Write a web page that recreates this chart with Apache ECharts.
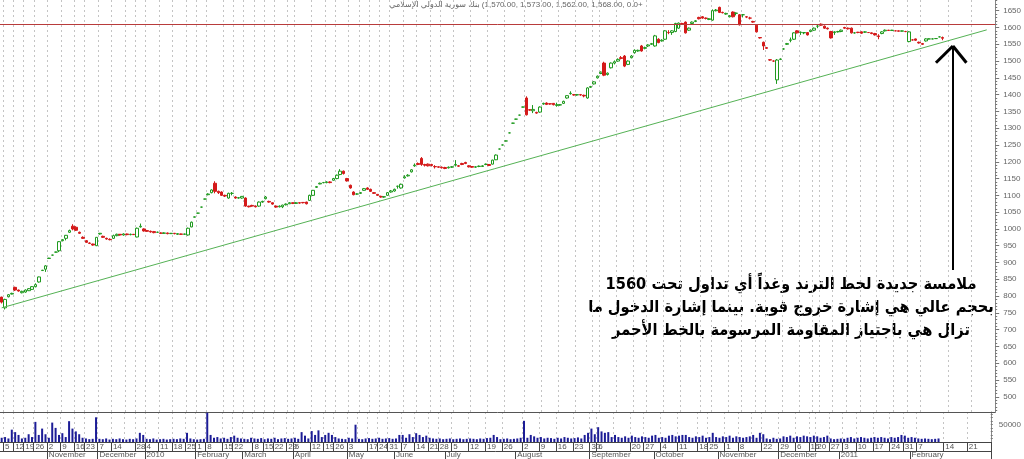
<!DOCTYPE html>
<html><head><meta charset="utf-8">
<script src="https://cdn.jsdelivr.net/npm/echarts@6/dist/echarts.min.js"></script>
<style>html,body{margin:0;padding:0;background:#fff}#c{width:1024px;height:459px}</style>
</head><body><div id="c"></div>
<script>
// weeks: [day-of-month label of the week tick, sessions in week, month label, month label offset in sessions]
const weeks = [
 ['',1],
 ['5',3],['12',3],['19',3],['26',4],
 ['2',4,'November'],['9',4],['16',3],['23',4],
 ['7',4,'December'],['14',4],['',3],['28',3],
 ['4',4,'2010'],['11',4],['18',4],['25',3],
 ['1',3,'February'],['8',5],['15',3],['22',3],
 ['',3,'March'],['8',3],['15',3],['22',4],['29',2],
 ['5',5,'April'],['12',4],['19',3],['26',4],
 ['3',3,'May'],['',3],['17',3],['24',3],['31',4,'June',2],
 ['7',4],['14',4],['21',3],['28',4,'July',2],
 ['5',5],['12',5],['19',5],['26',6,'August',4],
 ['2',5],['9',5],['16',5],['23',5],['30',2,'September',0],
 ['6',5],['',5],['20',4],['27',5,'October',3],
 ['4',5],['11',6],['18',3],['25',5,'November',3],
 ['1',4],['8',4],['',3],['22',5],['29',5,'December',0],
 ['6',4],['16',2],['20',4],['27',4,'2011',3],
 ['3',4],['10',5],['17',5],['24',4],['31',4,'February',2],
 ['7',8],['14',7],['21',7]
];
// candles: [open, close, low, high]
const ohlc = [
[797,782,778,798],[765,790,760,792],[798,804,796,806],[806,808,805,810],[826,818,815,828],
[818,815,813,819],[810,814,808,816],[812,818,810,820],[816,822,815,824],[820,828,818,830],
[828,834,826,838],[842,857,840,858],[876,877,875,878],[880,890,872,892],[912,913,911,914],
[922,922,921,923],[931,931,930,932],[935,962,931,964],[965,968,963,970],[972,981,966,982],
[990,995,988,998],[1008,1000,996,1014],[1005,996,994,1008],[990,987,985,992],[975,972,970,978],
[965,960,958,967],[958,957,955,960],[955,952,950,956],[950,975,949,976],[985,987,983,988],
[978,975,973,980],[972,970,968,974],[969,968,966,972],[972,980,970,983],[980,984,978,986],
[984,982,980,985],[982,985,980,987],[985,983,981,986],[983,984,981,986],[984,983,982,985],
[976,1002,975,1004],[1006,1008,1004,1016],[1000,994,992,1002],[995,993,991,997],[993,991,989,995],
[992,989,987,994],[990,990,988,992],[988,987,985,990],[987,988,985,990],[988,986,984,989],
[986,987,985,988],[987,986,984,988],[984,986,982,987],[985,984,982,986],[984,985,982,986],
[982,1002,980,1004],[1006,1020,1005,1022],[1035,1036,1034,1037],[1047,1047,1046,1048],[1065,1065,1064,1066],
[1089,1089,1088,1090],[1102,1104,1100,1106],[1108,1116,1106,1118],[1136,1112,1106,1142],[1112,1108,1104,1114],
[1110,1100,1098,1112],[1100,1098,1095,1102],[1092,1106,1090,1108],[1106,1106,1100,1110],[1095,1092,1090,1097],
[1092,1093,1090,1095],[1092,1097,1090,1098],[1092,1068,1066,1094],[1068,1066,1064,1069],[1070,1068,1066,1072],
[1068,1066,1064,1070],[1068,1080,1066,1082],[1080,1082,1078,1084],[1090,1095,1088,1098],[1082,1080,1078,1084],
[1078,1074,1072,1079],[1068,1065,1063,1070],[1066,1068,1064,1070],[1066,1071,1062,1072],[1072,1074,1070,1076],
[1075,1078,1074,1080],[1078,1076,1074,1079],[1076,1078,1075,1080],[1078,1077,1075,1079],[1079,1078,1076,1080],
[1080,1075,1073,1081],[1085,1100,1084,1102],[1100,1115,1098,1116],[1124,1126,1122,1128],[1134,1136,1133,1138],
[1138,1138,1136,1140],[1138,1140,1136,1142],[1140,1138,1136,1142],[1145,1150,1144,1152],[1150,1160,1148,1162],
[1162,1172,1160,1178],[1172,1165,1162,1174],[1150,1143,1141,1152],[1130,1122,1120,1132],[1110,1102,1100,1112],
[1104,1104,1102,1106],[1106,1108,1104,1110],[1115,1120,1114,1122],[1122,1118,1116,1124],[1118,1112,1110,1120],
[1108,1106,1104,1110],[1103,1100,1098,1104],[1097,1095,1093,1099],[1095,1096,1093,1098],[1100,1108,1099,1110],
[1110,1113,1108,1116],[1113,1118,1111,1120],[1127,1127,1120,1129],[1122,1133,1120,1135],[1152,1155,1150,1160],
[1158,1160,1156,1163],[1170,1176,1168,1178],[1188,1190,1185,1195],[1195,1192,1190,1198],[1210,1192,1188,1214],
[1192,1190,1186,1194],[1193,1188,1186,1195],[1192,1189,1186,1194],[1186,1185,1180,1190],[1185,1184,1182,1186],
[1184,1182,1180,1186],[1183,1180,1178,1185],[1182,1184,1180,1186],[1184,1185,1182,1187],[1190,1192,1186,1205],
[1188,1187,1185,1190],[1195,1192,1190,1197],[1198,1195,1193,1200],[1188,1185,1183,1190],[1186,1184,1182,1187],
[1184,1185,1182,1187],[1186,1187,1184,1189],[1186,1188,1185,1190],[1192,1193,1190,1195],[1192,1189,1187,1193],
[1193,1205,1192,1206],[1206,1220,1205,1222],[1238,1238,1237,1239],[1250,1250,1249,1251],[1262,1262,1261,1263],
[1286,1286,1285,1287],[1315,1315,1314,1316],[1327,1327,1326,1328],[1339,1339,1338,1340],[1363,1363,1362,1364],
[1390,1340,1338,1395],[1355,1354,1352,1356],[1352,1356,1345,1369],[1347,1345,1343,1349],[1348,1363,1346,1365],
[1372,1374,1370,1376],[1375,1371,1369,1377],[1373,1372,1370,1374],[1374,1370,1368,1375],[1368,1370,1364,1376],
[1369,1370,1367,1372],[1374,1380,1372,1382],[1390,1397,1388,1398],[1403,1404,1400,1410],[1400,1399,1397,1402],
[1399,1400,1397,1402],[1400,1399,1397,1402],[1398,1396,1392,1400],[1390,1420,1388,1422],[1422,1424,1420,1426],
[1432,1438,1430,1440],[1450,1455,1448,1457],[1463,1467,1461,1469],[1494,1458,1455,1498],[1460,1464,1457,1466],
[1480,1494,1478,1496],[1494,1498,1490,1502],[1500,1505,1498,1508],[1510,1508,1505,1515],[1515,1485,1482,1518],
[1490,1500,1488,1502],[1510,1515,1508,1518],[1525,1532,1522,1535],[1530,1532,1528,1534],[1545,1530,1528,1548],
[1538,1540,1535,1543],[1545,1548,1542,1550],[1550,1552,1548,1554],[1545,1575,1543,1578],[1565,1555,1553,1568],
[1560,1562,1558,1565],[1565,1590,1563,1592],[1585,1585,1580,1592],[1585,1590,1578,1592],[1588,1612,1586,1614],
[1598,1613,1596,1615],[1612,1610,1608,1614],[1616,1584,1582,1618],[1592,1598,1590,1600],[1612,1616,1610,1618],
[1618,1620,1616,1622],[1630,1626,1624,1632],[1632,1628,1626,1634],[1628,1627,1624,1630],[1624,1626,1622,1628],
[1622,1650,1620,1654],[1650,1652,1648,1655],[1660,1645,1643,1662],[1645,1644,1642,1647],[1640,1642,1638,1644],
[1632,1635,1630,1637],[1646,1632,1630,1648],[1642,1643,1636,1645],[1638,1608,1606,1640],[1638,1638,1630,1640],
[1632,1631,1628,1634],[1628,1628,1624,1632],[1618,1616,1614,1620],[1607,1587,1585,1609],[1570,1569,1567,1571],
[1556,1545,1533,1558],[1540,1538,1536,1542],[1504,1503,1501,1505],[1500,1500,1498,1502],[1444,1503,1432,1506],
[1505,1506,1503,1508],[1536,1536,1534,1538],[1550,1552,1548,1554],[1562,1563,1556,1570],[1565,1584,1563,1586],
[1590,1584,1582,1592],[1585,1586,1578,1588],[1584,1585,1580,1586],[1585,1578,1576,1586],[1588,1592,1586,1594],
[1592,1598,1590,1600],[1604,1604,1598,1610],[1610,1607,1605,1612],[1604,1598,1596,1606],[1598,1596,1594,1600],
[1588,1569,1567,1590],[1585,1587,1578,1589],[1587,1588,1585,1590],[1588,1592,1586,1594],[1600,1598,1596,1602],
[1598,1596,1594,1600],[1598,1584,1582,1600],[1584,1584,1582,1586],[1586,1585,1583,1587],[1587,1583,1581,1588],
[1586,1587,1584,1589],[1585,1585,1584,1586],[1584,1582,1580,1585],[1582,1578,1576,1584],[1575,1573,1565,1580],
[1582,1587,1580,1589],[1590,1592,1588,1594],[1592,1591,1590,1593],[1591,1592,1590,1593],[1590,1590,1589,1591],
[1590,1589,1588,1591],[1589,1590,1588,1591],[1588,1588,1586,1590],[1558,1587,1556,1589],[1563,1563,1561,1565],
[1566,1562,1560,1567],[1556,1554,1552,1558],[1552,1550,1548,1554],[1560,1566,1558,1568],[1566,1566,1565,1567],
[1566,1566,1565,1567],[1567,1567,1566,1568],[1572,1572,1571,1573],[1570,1568,1562,1573]
];
const volume = [
12000,14000,10000,35000,28000,20000,10000,12000,22000,14000,57000,20000,38000,22000,12000,55000,40000,20000,25000,14000,
59000,38000,30000,22000,12000,10000,8000,9000,70000,9000,8000,10000,7000,9000,8000,10000,8000,7000,9000,8000,
10000,26000,20000,9000,8000,10000,7000,8000,9000,7000,8000,9000,8000,10000,9000,26000,10000,8000,7000,8000,
9000,83000,20000,12000,14000,10000,12000,9000,14000,18000,12000,10000,9000,8000,12000,10000,9000,11000,8000,10000,
9000,12000,8000,10000,11000,9000,10000,12000,9000,28000,18000,10000,31000,20000,33000,14000,20000,26000,20000,14000,
10000,9000,8000,12000,10000,49000,9000,8000,10000,11000,9000,10000,12000,9000,10000,11000,9000,10000,20000,20000,
12000,22000,14000,25000,20000,14000,18000,12000,10000,9000,10000,8000,9000,10000,8000,9000,10000,8000,9000,10000,
9000,8000,10000,9000,11000,12000,20000,14000,8000,9000,10000,8000,9000,10000,12000,60000,12000,20000,16000,12000,
14000,10000,12000,11000,9000,12000,10000,14000,12000,10000,11000,13000,10000,20000,26000,38000,22000,42000,30000,26000,
28000,14000,20000,14000,12000,16000,12000,18000,14000,12000,16000,14000,12000,18000,20000,12000,14000,12000,18000,20000,
16000,18000,20000,20000,14000,12000,16000,14000,18000,12000,14000,26000,14000,12000,16000,14000,18000,12000,16000,14000,
12000,14000,16000,20000,12000,26000,22000,10000,8000,12000,9000,10000,16000,14000,18000,12000,16000,14000,18000,16000,
14000,18000,16000,12000,14000,18000,10000,8000,9000,10000,9000,12000,14000,10000,12000,14000,12000,10000,12000,14000,
12000,14000,12000,10000,14000,12000,14000,20000,18000,12000,14000,12000,10000,9000,10000,9000,8000,9000,10000
];
const priceTicks = [500,550,600,650,700,750,800,850,900,950,1000,1050,1100,1150,1200,1250,1300,1350,1400,1450,1500,1550,1600,1650];
const volumeTicks = [50000];
const resistance = 1610;
const trend = [[0, 765], [291, 1593]];           // [session index, price]
const arrowShaft = [[281, 878], [281, 1545]];
const arrowHeadL = [[276, 1495], [281, 1545]];
const arrowHeadR = [[285, 1495], [281, 1545]];
const titleText = 'بنك سورية الدولي الإسلامي\u200E (1,570.00, 1,573.00, 1,562.00, 1,568.00, 0.0+';
const noteLines = [
 'ملامسة جديدة لخط الترند وغداً أي تداول تحت 1560',
 'بحجم عالي هي إشارة خروج قوية. بينما إشارة الدخول ما',
 'تزال هي باجتياز المقاومة المرسومة بالخط الأحمر'
];

// build session categories
const cats = [], weekStart = {}, dayLabel = {}, monthLabel = {};
weeks.forEach(w => {
  const start = cats.length;
  if (start > 0) weekStart[start] = true;
  if (w[0]) dayLabel[start] = w[0];
  if (w[2]) monthLabel[start + (w[3] || 0)] = w[2];
  for (let k = 0; k < w[1]; k++) cats.push(String(cats.length));
});
const minorPrice = []; for (let v = 460; v <= 1680; v += 10) minorPrice.push(v);
const minorVol = []; for (let v = 10000; v <= 80000; v += 10000) minorVol.push(v);

const gridLine = { show: true, interval: i => !!weekStart[i], lineStyle: { color: '#c4c4c4', type: [2, 3], width: 1 } };
const lblFont = { fontFamily: 'Liberation Sans, Arial', fontSize: 8, color: '#555' };
const c = (p) => ({ coord: [cats[p[0]], p[1]] });
const plain = v => String(v);
const noteFont = 'bold 16.3px "DejaVu Sans Condensed", "DejaVu Sans"';

const chart = echarts.init(document.getElementById('c'), null, { renderer: 'canvas' });
chart.setOption({
  animation: false,
  backgroundColor: '#fff',
  grid: [
    { left: 0, right: 28, top: 0, height: 412, containLabel: false },
    { left: 0, right: 28, top: 412, height: 31, containLabel: false }
  ],
  xAxis: [
    { gridIndex: 0, type: 'category', data: cats, boundaryGap: true,
      axisLine: { show: true, lineStyle: { color: '#555' } }, axisTick: { show: false }, axisLabel: { show: false },
      splitLine: gridLine },
    { gridIndex: 1, type: 'category', data: cats, boundaryGap: true,
      axisLine: { show: true, lineStyle: { color: '#444' } },
      axisTick: { show: true, interval: i => !!dayLabel[i], length: 9, lineStyle: { color: '#444' } },
      axisLabel: Object.assign({ show: true, interval: i => !!dayLabel[i], formatter: (v, i) => dayLabel[i] || '', align: 'left', margin: 1 }, lblFont),
      splitLine: gridLine },
    { gridIndex: 1, type: 'category', data: cats, boundaryGap: true, position: 'bottom', offset: 9,
      axisLine: { show: true, lineStyle: { color: '#444' } },
      axisTick: { show: true, interval: i => !!monthLabel[i], length: 8, lineStyle: { color: '#444' } },
      axisLabel: Object.assign({ show: true, interval: i => !!monthLabel[i], formatter: (v, i) => monthLabel[i] || '', align: 'left', margin: 0 }, lblFont),
      splitLine: { show: false } }
  ],
  yAxis: [
    { gridIndex: 0, type: 'value', position: 'right', min: 454.7, max: 1681.9,
      axisLine: { show: true, lineStyle: { color: '#888' } },
      axisTick: { show: true, customValues: priceTicks, length: 4, lineStyle: { color: '#777' } },
      axisLabel: Object.assign({ show: true, customValues: priceTicks, margin: 8, formatter: plain }, lblFont, { color: '#666' }),
      splitLine: { show: false } },
    { gridIndex: 0, type: 'value', position: 'right', min: 454.7, max: 1681.9,
      axisLine: { show: false },
      axisTick: { show: true, customValues: minorPrice, length: 2, lineStyle: { color: '#777' } },
      axisLabel: { show: false }, splitLine: { show: false } },
    { gridIndex: 1, type: 'value', position: 'right', min: 0, max: 85000,
      axisLine: { show: true, lineStyle: { color: '#888' } },
      axisTick: { show: true, customValues: minorVol, length: 2, lineStyle: { color: '#777' } },
      axisLabel: Object.assign({ show: true, customValues: volumeTicks, margin: 8, formatter: plain }, lblFont, { color: '#666' }),
      splitLine: { show: false } }
  ],
  series: [
    { type: 'candlestick', xAxisIndex: 0, yAxisIndex: 0, data: ohlc, barWidth: 3,
      itemStyle: { color: '#ffffff', color0: '#d41a1a', borderColor: '#1f9a1f', borderColor0: '#d41a1a', borderWidth: 1 },
      markLine: { silent: true, symbol: 'none', label: { show: false }, animation: false,
        data: [
          { yAxis: resistance, lineStyle: { color: '#b83b3b', width: 1, type: 'solid' } },
          [Object.assign(c(trend[0]), { lineStyle: { color: '#55b255', width: 1, type: 'solid' } }), c(trend[1])],
          [Object.assign(c(arrowShaft[0]), { lineStyle: { color: '#000', width: 2, type: 'solid' } }), c(arrowShaft[1])],
          [Object.assign(c(arrowHeadL[0]), { lineStyle: { color: '#000', width: 3, type: 'solid' } }), c(arrowHeadL[1])],
          [Object.assign(c(arrowHeadR[0]), { lineStyle: { color: '#000', width: 3, type: 'solid' } }), c(arrowHeadR[1])]
        ] } },
    { type: 'bar', xAxisIndex: 1, yAxisIndex: 2, data: volume, barWidth: 2, itemStyle: { color: '#1c1c96' } }
  ],
  graphic: [
    { type: 'text', x: 516, y: 5, style: { text: titleText, font: '8px "Liberation Sans", "DejaVu Sans"', fill: '#666', align: 'center', verticalAlign: 'middle' } },
    { type: 'text', x: 791, y: 285, style: { text: noteLines[0], font: noteFont, fill: '#000', align: 'center', verticalAlign: 'middle' } },
    { type: 'text', x: 791, y: 308, style: { text: noteLines[1], font: noteFont, fill: '#000', align: 'center', verticalAlign: 'middle' } },
    { type: 'text', x: 791, y: 331, style: { text: noteLines[2], font: noteFont, fill: '#000', align: 'center', verticalAlign: 'middle' } }
  ]
});
</script></body></html>
